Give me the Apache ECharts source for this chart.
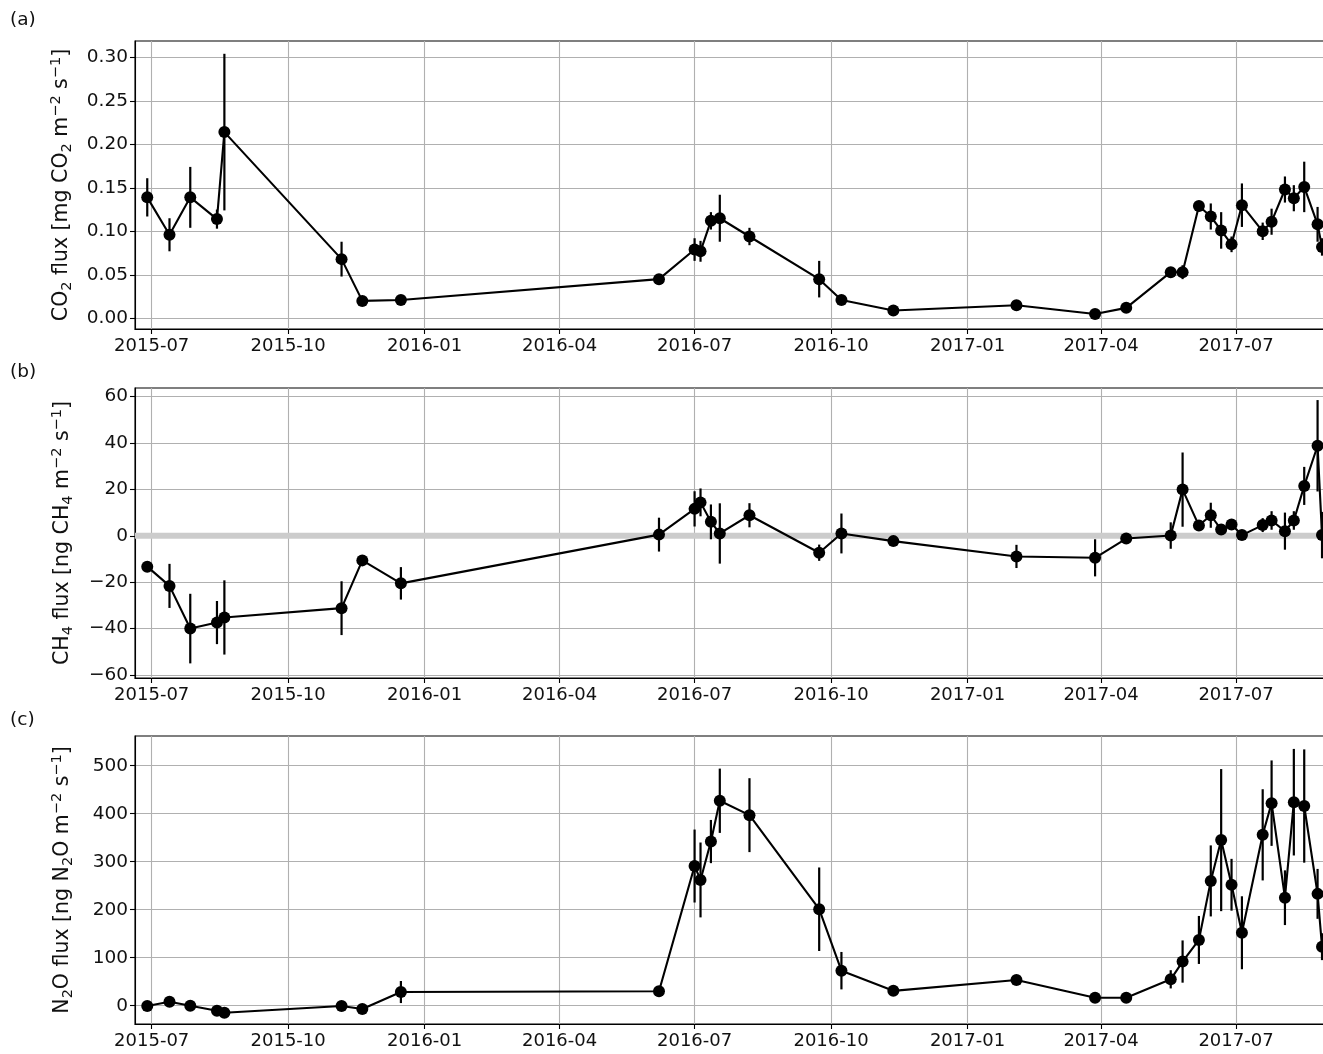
<!DOCTYPE html>
<html>
<head>
<meta charset="utf-8">
<script src="https://cdn.jsdelivr.net/npm/echarts@6/dist/echarts.min.js"></script>
<style>
html,body{margin:0;padding:0;background:#fff;}
#chart{width:1323px;height:1054px;}
</style>
</head>
<body>
<div id="chart"></div>
<script>
// ---- data ----
const dates = ['2015-06-28','2015-07-13','2015-07-27','2015-08-14','2015-08-19','2015-11-06','2015-11-20','2015-12-16',
  '2016-06-07','2016-07-01','2016-07-05','2016-07-12','2016-07-18','2016-08-07','2016-09-23','2016-10-08','2016-11-12',
  '2017-02-03','2017-03-28','2017-04-18','2017-05-18','2017-05-26','2017-06-06','2017-06-14','2017-06-21','2017-06-28',
  '2017-07-05','2017-07-19','2017-07-25','2017-08-03','2017-08-09','2017-08-16','2017-08-25','2017-08-28'];

const co2 = [0.139,0.096,0.139,0.114,0.214,0.068,0.020,0.021,0.045,0.079,0.077,0.112,0.115,0.094,0.045,0.021,0.009,
  0.015,0.005,0.012,0.053,0.053,0.129,0.117,0.101,0.085,0.130,0.100,0.111,0.148,0.138,0.151,0.108,0.082];
const co2Err = [0.022,0.019,0.035,0.011,0.090,0.020,0.003,0.003,0.004,0.013,0.012,0.010,0.027,0.010,0.021,0.004,0.003,
  0.003,0.003,0.004,0.004,0.008,0.006,0.015,0.021,0.009,0.025,0.010,0.015,0.015,0.015,0.029,0.020,0.010];

const ch4 = [-13.3,-21.6,-40.0,-37.4,-35.2,-31.2,-10.6,-20.5,0.5,11.6,14.4,6.0,1.0,8.85,-7.3,1.0,-2.3,
  -8.9,-9.5,-1.2,0.1,19.9,4.4,8.85,2.7,4.85,0.3,4.6,6.6,2.0,6.6,21.5,38.8,0.3];
const ch4Err = [1,9.5,15,9.3,16,11.6,1,7,7.3,7.6,6,7.5,13,5.2,3.5,8.6,1,
  5,8,1,5.7,16,1.5,5.4,1.5,1.5,1,3,4,8,4,8.2,19.7,10];

const n2o = [-0.6,8.3,0,-10.4,-14.6,-0.6,-7,28.5,30,291,262,342,427,397,201,73,31,
  53.5,16.7,16.7,55,92,137,260,345,252,152,356,422,225,424,416,233,123];
const n2oErr = [2,2,2,2,2,2,2,23,2,76,78,45,67,77,87,39,2,
  2,2,2,19,44,50,74,148,54,76,95,89,57,111,118,52,28];

const xTickDates = ['2015-07-01','2015-10-01','2016-01-01','2016-04-01','2016-07-01','2016-10-01','2017-01-01','2017-04-01','2017-07-01'];
const co2Ticks = [0.00,0.05,0.10,0.15,0.20,0.25,0.30];
const ch4Ticks = [-60,-40,-20,0,20,40,60];
const n2oTicks = [0,100,200,300,400,500];
const zeroLine = [0,0];

const panelLetters = ['(a)','(b)','(c)'];
// axis titles as rich text: m = main, s = subscript, p = superscript
const yNames = ['{m|CO}{s|2}{m| flux [mg CO}{s|2}{m| m}{p|\u22122}{m| s}{p|\u22121}{m|]}',
                '{m|CH}{s|4}{m| flux [ng CH}{s|4}{m| m}{p|\u22122}{m| s}{p|\u22121}{m|]}',
                '{m|N}{s|2}{m|O flux [ng N}{s|2}{m|O m}{p|\u22122}{m| s}{p|\u22121}{m|]}'];

// ---- helpers ----
function ts(s){ const p=s.split('-').map(Number); return Date.UTC(p[0],p[1]-1,p[2]); }
const DAY = 86400000;
const T0 = ts('2015-07-01');
const PXD = 1.4833;            // pixels per day
const LEFT = 135, WIDTH = 1218;
const xMin = T0 - (151.7-LEFT)/PXD*DAY;
const xMax = xMin + WIDTH/PXD*DAY;
const X = dates.map(ts);
const xTicks = xTickDates.map(ts);

const FONT = 'DejaVu Sans';
const grids = [
  {left:LEFT, width:WIDTH, top:41, height:288},
  {left:LEFT, width:WIDTH, top:388, height:290},
  {left:LEFT, width:WIDTH, top:736, height:288}
].map(g=>Object.assign(g,{show:true,borderColor:'#000',borderWidth:1.1,backgroundColor:'transparent',
  containLabel:false,outerBoundsMode:'none'}));

const yRanges = [[-0.0123,0.3187],[-61.3,63.7],[-38.1,561.9]];
const yTicks = [co2Ticks,ch4Ticks,n2oTicks];
const yFmt = [v=>v.toFixed(2), v=>(v<0?'\u2212':'')+Math.abs(v).toFixed(0), v=>v.toFixed(0)];

function fmtDate(v){const d=new Date(v);return d.getUTCFullYear()+'-'+String(d.getUTCMonth()+1).padStart(2,'0');}

const xAxes = grids.map((g,i)=>({
  type:'value', gridIndex:i, min:xMin, max:xMax, scale:true,
  axisLine:{show:true,onZero:false,lineStyle:{color:'#000',width:1.1}},
  axisTick:{show:true,length:5,lineStyle:{color:'#000',width:1.1},customValues:xTicks},
  axisLabel:{customValues:xTicks,fontFamily:FONT,fontSize:18,color:'#111',margin:8,formatter:fmtDate,hideOverlap:false},
  splitLine:{show:true,lineStyle:{color:'#b0b0b0',width:1.1}}
}));

const nameRich = {
  m:{fontFamily:FONT,fontSize:20.5,color:'#111',lineHeight:28,verticalAlign:'middle'},
  s:{fontFamily:FONT,fontSize:14.5,color:'#111',lineHeight:15,verticalAlign:'bottom',padding:[0,0,1,0]},
  p:{fontFamily:FONT,fontSize:14.5,color:'#111',lineHeight:15,verticalAlign:'top',padding:[1,0,0,0]}
};

const yAxes = grids.map((g,i)=>({
  type:'value', gridIndex:i, min:yRanges[i][0], max:yRanges[i][1],
  name:yNames[i], nameLocation:'middle', nameRotate:90, nameGap:58,
  nameTextStyle:{fontFamily:FONT,fontSize:20.5,color:'#111',rich:nameRich},
  axisLine:{show:true,onZero:false,lineStyle:{color:'#000',width:1.1}},
  axisTick:{show:true,length:5,lineStyle:{color:'#000',width:1.1},customValues:yTicks[i]},
  axisLabel:{customValues:yTicks[i],fontFamily:FONT,fontSize:18.5,color:'#111',margin:7,formatter:yFmt[i]},
  splitLine:{show:true,lineStyle:{color:'#b0b0b0',width:1.1}}
}));

const sets = [[co2,co2Err],[ch4,ch4Err],[n2o,n2oErr]];
const series = [];
sets.forEach((s,i)=>{
  const vals=s[0], errs=s[1];
  series.push({
    type:'custom', xAxisIndex:i, yAxisIndex:i, clip:true, z:3, silent:true,
    encode:{x:0,y:1},
    renderItem:function(params,api){
      const x=api.value(0), y=api.value(1), e=api.value(2);
      const p1=api.coord([x,y-e]), p2=api.coord([x,y+e]);
      return {type:'line',shape:{x1:p1[0],y1:p1[1],x2:p2[0],y2:p2[1]},style:{stroke:'#000',lineWidth:2.2}};
    },
    data:X.map((x,k)=>[x,vals[k],errs[k]])
  });
  series.push({
    type:'line', xAxisIndex:i, yAxisIndex:i, z:4, silent:true, clip:true,
    symbol:'circle', symbolSize:12, showAllSymbol:true,
    lineStyle:{color:'#000',width:2.1}, itemStyle:{color:'#000'},
    data:X.map((x,k)=>[x,vals[k]])
  });
});
// gray zero line in panel (b)
series.push({
  type:'line', xAxisIndex:1, yAxisIndex:1, z:2, silent:true, symbol:'none',
  lineStyle:{color:'#cccccc',width:6}, data:[[xMin,zeroLine[0]],[xMax,zeroLine[1]]]
});

const graphics = panelLetters.map((t,i)=>({
  type:'text', left:10, top:[11,363,711][i],
  style:{text:t,fontFamily:FONT,fontSize:18.5,fill:'#111'}
}));

const chart = echarts.init(document.getElementById('chart'),null,{renderer:'canvas'});
chart.setOption({
  animation:false,
  backgroundColor:'#fff',
  grid:grids, xAxis:xAxes, yAxis:yAxes, series:series, graphic:graphics
});
</script>
</body>
</html>
